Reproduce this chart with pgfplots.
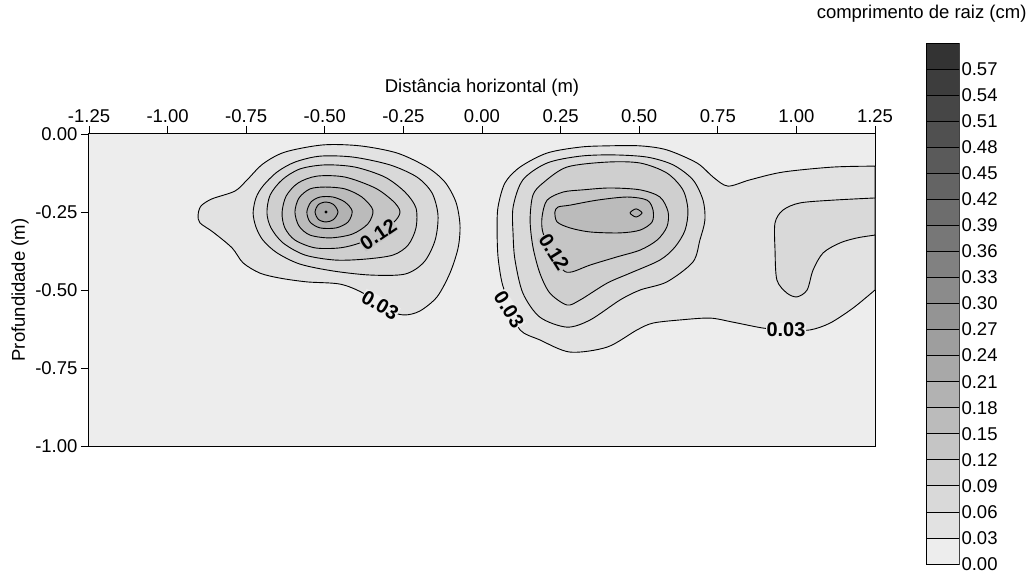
\documentclass[border=0pt]{standalone}
\usepackage{pgfplots}
\pgfplotsset{compat=1.18}
\usepackage{fontspec}
\setmainfont{Liberation Sans}
\definecolor{g0}{RGB}{237,237,237}
\definecolor{g1}{RGB}{226,226,226}
\definecolor{g2}{RGB}{217,217,217}
\definecolor{g3}{RGB}{207,207,207}
\definecolor{g4}{RGB}{197,197,197}
\definecolor{g5}{RGB}{187,187,187}
\definecolor{g6}{RGB}{178,178,178}
\definecolor{g7}{RGB}{168,168,168}
\definecolor{g8}{RGB}{158,158,158}
\definecolor{g9}{RGB}{148,148,148}
\definecolor{g10}{RGB}{139,139,139}
\definecolor{g11}{RGB}{129,129,129}
\definecolor{g12}{RGB}{119,119,119}
\definecolor{g13}{RGB}{109,109,109}
\definecolor{g14}{RGB}{100,100,100}
\definecolor{g15}{RGB}{90,90,90}
\definecolor{g16}{RGB}{80,80,80}
\definecolor{g17}{RGB}{70,70,70}
\definecolor{g18}{RGB}{61,61,61}
\definecolor{g19}{RGB}{51,51,51}
\newcommand{\tfont}{\fontsize{18.5}{21}\selectfont}
\newcommand{\cfont}{\fontsize{20}{22}\selectfont\bfseries}
\begin{document}
\begin{tikzpicture}
\path[use as bounding box] (-89pt,-125pt) rectangle (944pt,446pt);
\begin{axis}[at={(0pt,0pt)}, anchor=south west, scale only axis,
  width=786pt, height=312pt,
  xmin=-1.25, xmax=1.25, ymin=-1, ymax=0,
  xtick={-1.25,-1,-0.75,-0.5,-0.25,0,0.25,0.5,0.75,1,1.25},
  ytick={-1,-0.75,-0.5,-0.25,0},
  xtick pos=right, xticklabel pos=right, ytick pos=left,
  tick align=outside, major tick length=8pt,
  axis background/.style={fill=g0},
  axis line style={black, line width=1pt},
  tick style={black, line width=0.8pt},
  /pgf/number format/assume math mode=true,
  /pgf/number format/.cd, fixed, fixed zerofill, precision=2, /pgfplots/.cd,
  tick label style={font=\tfont},
  every axis plot/.append style={line width=0.9pt},
]
% right blob 0.03 region (open to right edge)
\addplot[smooth, fill=g1, draw=black] coordinates {
(1.250,-0.103)(1.116,-0.106)(0.957,-0.122)(0.852,-0.147)(0.782,-0.167)(0.735,-0.138)(0.684,-0.093)(0.588,-0.051)(0.503,-0.038)(0.398,-0.038)(0.312,-0.042)(0.207,-0.061)(0.121,-0.106)(0.073,-0.157)(0.051,-0.234)(0.048,-0.308)(0.051,-0.394)(0.064,-0.478)(0.089,-0.548)(0.121,-0.628)(0.184,-0.660)(0.280,-0.699)(0.398,-0.683)(0.493,-0.628)(0.544,-0.606)(0.630,-0.596)(0.725,-0.590)(0.798,-0.603)(0.894,-0.622)(0.967,-0.628)(1.043,-0.628)(1.107,-0.606)(1.180,-0.558)(1.250,-0.500)
} -- cycle;
% right edge 0.06 region
\addplot[smooth, fill=g2, draw=black] coordinates {
(1.250,-0.205)(1.116,-0.212)(1.011,-0.221)(0.957,-0.244)(0.932,-0.285)(0.932,-0.372)(0.938,-0.468)(0.970,-0.510)(1.002,-0.522)(1.034,-0.500)(1.053,-0.436)(1.085,-0.381)(1.139,-0.349)(1.193,-0.333)(1.250,-0.324)
} -- cycle;
% right blob rings
\addplot[smooth cycle, fill=g2, draw=black] coordinates {
(0.099,-0.234)(0.130,-0.147)(0.207,-0.093)(0.312,-0.071)(0.417,-0.067)(0.525,-0.074)(0.608,-0.099)(0.671,-0.147)(0.703,-0.212)(0.709,-0.276)(0.693,-0.340)(0.671,-0.410)(0.588,-0.474)(0.503,-0.500)(0.439,-0.532)(0.344,-0.596)(0.270,-0.619)(0.184,-0.587)(0.130,-0.510)(0.105,-0.404)(0.099,-0.324)
};
\addplot[smooth cycle, fill=g3, draw=black] coordinates {
(0.153,-0.276)(0.162,-0.196)(0.194,-0.157)(0.270,-0.106)(0.398,-0.090)(0.503,-0.093)(0.588,-0.125)(0.639,-0.179)(0.655,-0.244)(0.646,-0.308)(0.614,-0.362)(0.566,-0.404)(0.471,-0.446)(0.398,-0.478)(0.312,-0.532)(0.270,-0.548)(0.216,-0.510)(0.184,-0.446)(0.162,-0.362)
};
\addplot[smooth cycle, fill=g4, draw=black] coordinates {
(0.191,-0.266)(0.207,-0.212)(0.258,-0.186)(0.321,-0.179)(0.407,-0.173)(0.503,-0.179)(0.566,-0.202)(0.592,-0.250)(0.588,-0.298)(0.557,-0.340)(0.503,-0.372)(0.429,-0.394)(0.344,-0.420)(0.286,-0.442)(0.258,-0.436)(0.226,-0.378)(0.194,-0.317)
};
\addplot[smooth cycle, fill=g5, draw=black] coordinates {
(0.232,-0.250)(0.242,-0.234)(0.280,-0.228)(0.366,-0.212)(0.461,-0.202)(0.525,-0.212)(0.544,-0.244)(0.541,-0.282)(0.503,-0.308)(0.439,-0.317)(0.344,-0.314)(0.280,-0.301)(0.239,-0.282)
};
\addplot[smooth cycle, fill=g6, draw=black] coordinates {
(0.471,-0.253)(0.490,-0.240)(0.509,-0.253)(0.490,-0.266)
};
% left blob rings
\addplot[smooth cycle, fill=g1, draw=black] coordinates {
(-0.903,-0.260)(-0.894,-0.231)(-0.859,-0.208)(-0.786,-0.183)(-0.747,-0.147)(-0.697,-0.096)(-0.627,-0.058)(-0.506,-0.035)(-0.388,-0.038)(-0.270,-0.061)(-0.175,-0.106)(-0.118,-0.154)(-0.083,-0.218)(-0.070,-0.292)(-0.076,-0.365)(-0.102,-0.446)(-0.143,-0.522)(-0.197,-0.567)(-0.245,-0.580)(-0.293,-0.567)(-0.378,-0.510)(-0.452,-0.481)(-0.557,-0.474)(-0.642,-0.462)(-0.706,-0.446)(-0.760,-0.413)(-0.795,-0.365)(-0.856,-0.314)(-0.897,-0.285)
};
\addplot[smooth cycle, fill=g2, draw=black] coordinates {
(-0.728,-0.253)(-0.719,-0.205)(-0.697,-0.167)(-0.652,-0.122)(-0.595,-0.090)(-0.515,-0.071)(-0.410,-0.074)(-0.293,-0.099)(-0.207,-0.138)(-0.159,-0.189)(-0.140,-0.260)(-0.149,-0.340)(-0.184,-0.410)(-0.245,-0.449)(-0.356,-0.452)(-0.474,-0.439)(-0.579,-0.417)(-0.652,-0.381)(-0.697,-0.340)(-0.719,-0.298)
};
\addplot[smooth cycle, fill=g3, draw=black] coordinates {
(-0.684,-0.253)(-0.674,-0.196)(-0.636,-0.147)(-0.579,-0.112)(-0.499,-0.099)(-0.404,-0.106)(-0.309,-0.138)(-0.245,-0.186)(-0.210,-0.237)(-0.210,-0.301)(-0.235,-0.356)(-0.283,-0.388)(-0.372,-0.401)(-0.467,-0.404)(-0.563,-0.388)(-0.633,-0.349)(-0.671,-0.301)
};
\addplot[smooth cycle, fill=g4, draw=black] coordinates {
(-0.636,-0.253)(-0.623,-0.199)(-0.585,-0.157)(-0.525,-0.135)(-0.436,-0.138)(-0.340,-0.173)(-0.283,-0.215)(-0.261,-0.247)(-0.274,-0.276)(-0.324,-0.317)(-0.388,-0.349)(-0.452,-0.365)(-0.531,-0.365)(-0.595,-0.340)(-0.627,-0.301)
};
\addplot[smooth cycle, fill=g5, draw=black] coordinates {
(-0.595,-0.250)(-0.582,-0.205)(-0.547,-0.176)(-0.499,-0.170)(-0.436,-0.176)(-0.382,-0.202)(-0.347,-0.244)(-0.363,-0.288)(-0.413,-0.321)(-0.483,-0.333)(-0.547,-0.324)(-0.582,-0.295)
};
\addplot[smooth cycle, fill=g6, draw=black] coordinates {
(-0.557,-0.250)(-0.544,-0.218)(-0.515,-0.202)(-0.474,-0.202)(-0.436,-0.218)(-0.413,-0.247)(-0.426,-0.282)(-0.464,-0.301)(-0.515,-0.301)(-0.547,-0.282)
};
\addplot[smooth cycle, fill=g7, draw=black] coordinates {
(-0.531,-0.250)(-0.520,-0.226)(-0.496,-0.218)(-0.472,-0.226)(-0.458,-0.250)(-0.472,-0.274)(-0.496,-0.282)(-0.520,-0.274)
};
\addplot[only marks, mark=*, mark size=1pt, black] coordinates {(-0.496,-0.250)};
% contour labels
\node[font=\cfont, rotate=34, fill=g4, inner sep=0.3pt] at (axis cs:-0.330,-0.322) {0.12};
\node[font=\cfont, rotate=-30, fill=g0, inner sep=0.3pt] at (axis cs:-0.324,-0.548) {0.03};
\node[font=\cfont, rotate=-58, fill=g0, inner sep=0.3pt] at (axis cs:0.086,-0.563) {0.03};
\node[font=\cfont, rotate=-58, fill=g4, inner sep=0.3pt] at (axis cs:0.229,-0.378) {0.12};
\node[font=\cfont, fill=g0, inner sep=0.3pt] at (axis cs:0.967,-0.628) {0.03};
\end{axis}
% colour bar
\begin{axis}[at={(837pt,-118pt)}, anchor=south west, scale only axis,
  width=33pt, height=521pt,
  xmin=0, xmax=1, ymin=0, ymax=0.6,
  xtick=\empty,
  ytick={0,0.03,0.06,0.09,0.12,0.15,0.18,0.21,0.24,0.27,0.30,0.33,0.36,0.39,0.42,0.45,0.48,0.51,0.54,0.57},
  yticklabel pos=right, ytick style={draw=none},
  axis line style={black!70, line width=0.8pt},
  /pgf/number format/assume math mode=true,
  /pgf/number format/.cd, fixed, fixed zerofill, precision=2, /pgfplots/.cd,
  yticklabel style={font=\tfont, xshift=-1pt},
  every axis plot/.append style={line width=0.8pt},
]
\addplot[fill=g0, draw=black] coordinates {(0,0)(1,0)(1,0.03)(0,0.03)} -- cycle;
\addplot[fill=g1, draw=black] coordinates {(0,0.03)(1,0.03)(1,0.06)(0,0.06)} -- cycle;
\addplot[fill=g2, draw=black] coordinates {(0,0.06)(1,0.06)(1,0.09)(0,0.09)} -- cycle;
\addplot[fill=g3, draw=black] coordinates {(0,0.09)(1,0.09)(1,0.12)(0,0.12)} -- cycle;
\addplot[fill=g4, draw=black] coordinates {(0,0.12)(1,0.12)(1,0.15)(0,0.15)} -- cycle;
\addplot[fill=g5, draw=black] coordinates {(0,0.15)(1,0.15)(1,0.18)(0,0.18)} -- cycle;
\addplot[fill=g6, draw=black] coordinates {(0,0.18)(1,0.18)(1,0.21)(0,0.21)} -- cycle;
\addplot[fill=g7, draw=black] coordinates {(0,0.21)(1,0.21)(1,0.24)(0,0.24)} -- cycle;
\addplot[fill=g8, draw=black] coordinates {(0,0.24)(1,0.24)(1,0.27)(0,0.27)} -- cycle;
\addplot[fill=g9, draw=black] coordinates {(0,0.27)(1,0.27)(1,0.30)(0,0.30)} -- cycle;
\addplot[fill=g10, draw=black] coordinates {(0,0.30)(1,0.30)(1,0.33)(0,0.33)} -- cycle;
\addplot[fill=g11, draw=black] coordinates {(0,0.33)(1,0.33)(1,0.36)(0,0.36)} -- cycle;
\addplot[fill=g12, draw=black] coordinates {(0,0.36)(1,0.36)(1,0.39)(0,0.39)} -- cycle;
\addplot[fill=g13, draw=black] coordinates {(0,0.39)(1,0.39)(1,0.42)(0,0.42)} -- cycle;
\addplot[fill=g14, draw=black] coordinates {(0,0.42)(1,0.42)(1,0.45)(0,0.45)} -- cycle;
\addplot[fill=g15, draw=black] coordinates {(0,0.45)(1,0.45)(1,0.48)(0,0.48)} -- cycle;
\addplot[fill=g16, draw=black] coordinates {(0,0.48)(1,0.48)(1,0.51)(0,0.51)} -- cycle;
\addplot[fill=g17, draw=black] coordinates {(0,0.51)(1,0.51)(1,0.54)(0,0.54)} -- cycle;
\addplot[fill=g18, draw=black] coordinates {(0,0.54)(1,0.54)(1,0.57)(0,0.57)} -- cycle;
\addplot[fill=g19, draw=black] coordinates {(0,0.57)(1,0.57)(1,0.60)(0,0.60)} -- cycle;
\end{axis}
\node[font=\tfont] at (393pt,358pt) {Distância horizontal (m)};
\node[font=\tfont, rotate=90] at (-69pt,156pt) {Profundidade (m)};
\node[font=\tfont, anchor=east] at (941pt,432pt) {comprimento de raiz (cm)};
\end{tikzpicture}
\end{document}
